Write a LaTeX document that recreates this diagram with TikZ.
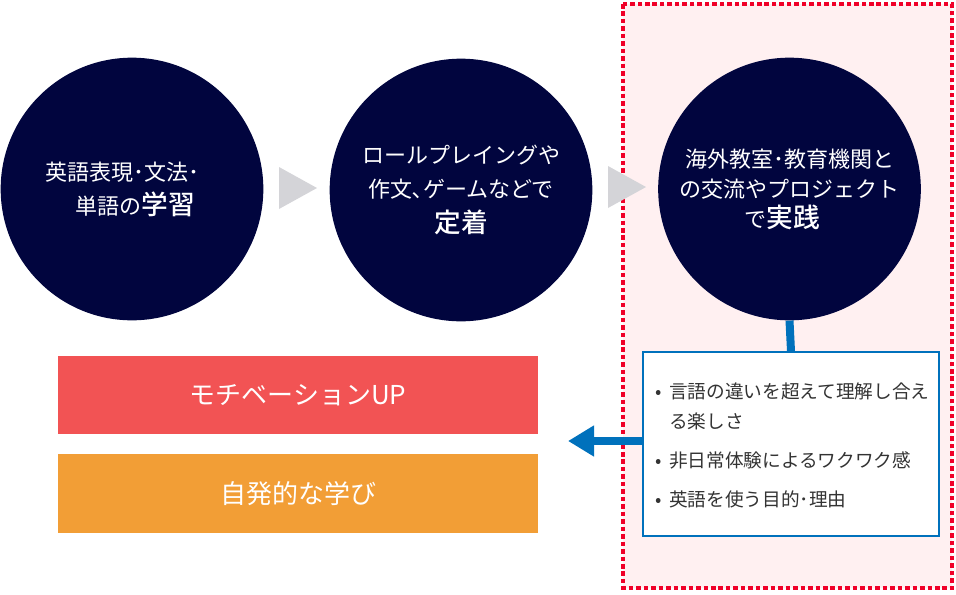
\documentclass[tikz,border=0pt]{standalone}
\usepackage{fontspec}
\setmainfont{Noto Sans CJK JP}
\newfontfamily\jpmedium{Noto Sans CJK JP Medium}
\usepackage{tikz}
\usetikzlibrary{arrows.meta}

\definecolor{navy}{RGB}{1,5,62}
\definecolor{stepgray}{RGB}{212,212,216}
\definecolor{zonepink}{RGB}{255,240,241}
\definecolor{zonered}{RGB}{240,0,40}
\definecolor{linkblue}{RGB}{0,113,188}
\definecolor{barred}{RGB}{242,83,84}
\definecolor{barorange}{RGB}{242,158,54}
\definecolor{textgray}{RGB}{51,51,51}

\newcommand{\keyword}[1]{{\jpmedium\fontsize{20}{25.5}\selectfont #1}}

\tikzset{
  stage/.style={circle,fill=navy,minimum size=197pt,inner sep=0pt,text=white,align=center},
  bar/.style={rectangle,minimum width=360pt,minimum height=58.5pt,inner sep=0pt,text=white,
    font=\fontsize{19.5}{22}\selectfont},
  bluelink/.style={draw=linkblue,line width=6pt}
}

\begin{document}
\begin{tikzpicture}[x=0.75pt,y=0.75pt,yscale=-1,xscale=1]
\useasboundingbox (0,0) rectangle (956,594);

%Shape: Rectangle (practice zone)
\draw [draw=zonered,fill=zonepink,line width=3.2pt,dash pattern=on 3.4pt off 2.2pt] (623,4) rectangle (952,588);

%Shape: Circle
\node [stage,font=\fontsize{16.5}{25.5}\selectfont] (learn) at (132,189) {英語表現･文法･\hspace*{0.9em}\\\hspace*{1.2em}単語の\keyword{学習}\hspace*{0.9em}};
%Shape: Circle
\node [stage,font=\fontsize{16.5}{25.5}\selectfont] (fix) at (461,190) {ロールプレイングや\\作文､ゲームなどで\\[1pt]\keyword{定着}};
%Shape: Circle
\node [stage,font=\fontsize{16.5}{22.5}\selectfont] (practice) at (789.5,189) {海外教室･教育機関と\\の交流やプロジェクト\\\hspace*{-0.65em}で\keyword{実践}};

%Shape: Triangle
\fill [stepgray] (279,167) -- (317,188) -- (279,209) -- cycle;
%Shape: Triangle
\fill [stepgray] (608,166) -- (646,187) -- (608,208) -- cycle;

%Shape: Rectangle (points)
\node [draw=linkblue,fill=white,line width=1.2pt,minimum width=222pt,minimum height=138pt,inner sep=0pt] (points) at (791,444) {};
% Text Node
\node [anchor=north west,align=left,inner sep=0pt,text=textgray,font=\fontsize{14}{22.5}\selectfont] (pointtext) at (655,383)
  {•\hspace{0.4em}言語の違いを超えて理解し合え\\\phantom{•\hspace{0.4em}}る楽しさ\\[6.5pt]•\hspace{0.4em}非日常体験によるワクワク感\\[6.5pt]•\hspace{0.4em}英語を使う目的･理由};

%Straight Lines
\draw [bluelink] (practice.south) -- (points.north);
\coordinate (arrowtip) at (568,441);
\draw [bluelink,-{Triangle[length=19.5pt,width=22pt]}] (points.west |- arrowtip) -- (arrowtip);

%Shape: Rectangle (results)
\node [bar,fill=barred] (motivation) at (298,395) {モチベーションUP};
\node [bar,fill=barorange,minimum height=59pt] (selfstudy) at (298,493.5) {自発的な学び};

\end{tikzpicture}
\end{document}
